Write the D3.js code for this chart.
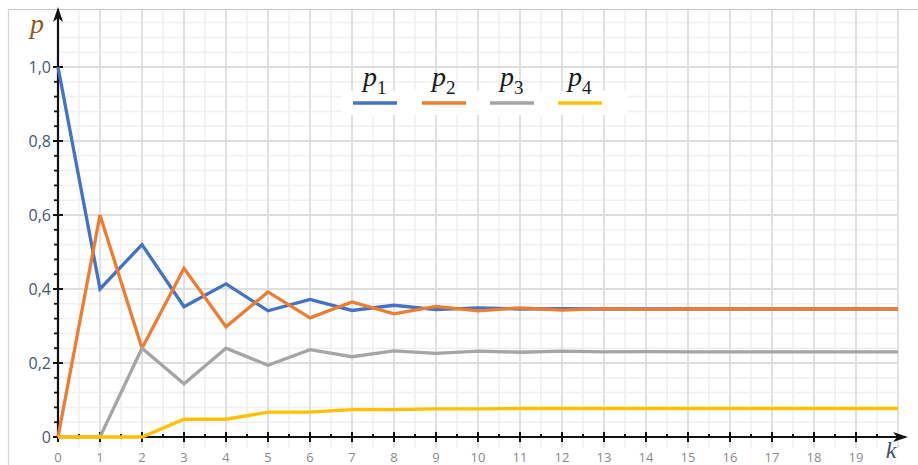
<!DOCTYPE html>
<html>
<head>
<meta charset="utf-8">
<script src="https://cdn.jsdelivr.net/npm/d3@7"></script>
<style>
  html, body { margin: 0; padding: 0; background: #fff; }
  svg { display: block; }
</style>
</head>
<body>
<svg id="chart" width="918" height="465"></svg>
<script>
// Step number k and state probabilities p1..p4
const steps = [0, 1, 2, 3, 4, 5, 6, 7, 8, 9, 10, 11, 12, 13, 14, 15, 16, 17, 18, 19, 20];
const p1 = [1.0, 0.4, 0.52, 0.352, 0.414, 0.341, 0.372, 0.342, 0.356, 0.344, 0.349, 0.346, 0.347, 0.346, 0.346, 0.346, 0.346, 0.346, 0.346, 0.346, 0.346];
const p2 = [0, 0.6, 0.24, 0.456, 0.298, 0.392, 0.322, 0.365, 0.333, 0.353, 0.341, 0.349, 0.343, 0.347, 0.345, 0.346, 0.346, 0.346, 0.346, 0.346, 0.346];
const p3 = [0, 0, 0.24, 0.144, 0.24, 0.194, 0.236, 0.217, 0.233, 0.226, 0.232, 0.229, 0.232, 0.23, 0.231, 0.23, 0.23, 0.23, 0.23, 0.23, 0.23];
const p4 = [0, 0, 0, 0.048, 0.048, 0.067, 0.067, 0.074, 0.074, 0.076, 0.076, 0.077, 0.077, 0.077, 0.077, 0.077, 0.077, 0.077, 0.077, 0.077, 0.077];
const seriesNames = ["1", "2", "3", "4"];
const seriesColors = ["#4472c4", "#ed7d31", "#a5a5a5", "#ffc000"];
const xTickValues = [0, 1, 2, 3, 4, 5, 6, 7, 8, 9, 10, 11, 12, 13, 14, 15, 16, 17, 18, 19];
const yTickValues = [0, 0.2, 0.4, 0.6, 0.8, 1.0];
const yTickLabels = ["0", "0,2", "0,4", "0,6", "0,8", "1,0"];

const svg = d3.select("#chart");
const W = 918, H = 465;

const x = d3.scaleLinear().domain([0, 20]).range([58, 898]);
const y = d3.scaleLinear().domain([0, 1]).range([437, 67]);

// frame lines of the sheet
svg.append("line").attr("x1", 8).attr("x2", W).attr("y1", 9.5).attr("y2", 9.5)
  .attr("stroke", "#c8c8c8").attr("stroke-width", 1.2);
svg.append("line").attr("x1", 8.5).attr("x2", 8.5).attr("y1", 9).attr("y2", H)
  .attr("stroke", "#d4d4d4").attr("stroke-width", 1.2);

// grid
const gridTop = 10, gridBottom = 448;
const grid = svg.append("g");
const vMinor = d3.range(0.5, 20, 1);
const vMajor = d3.range(1, 21, 1);
grid.selectAll(".vmin").data(vMinor).join("line")
  .attr("x1", d => x(d)).attr("x2", d => x(d))
  .attr("y1", gridTop).attr("y2", gridBottom)
  .attr("stroke", "#efefef").attr("stroke-width", 1.5);
const hAll = d3.range(-1, 29).map(i => i * 0.04).filter(v => y(v) > gridTop && y(v) < gridBottom);
grid.selectAll(".hmin").data(hAll.filter(v => Math.abs(v * 5 - Math.round(v * 5)) > 1e-6)).join("line")
  .attr("x1", x(0)).attr("x2", x(20))
  .attr("y1", d => y(d)).attr("y2", d => y(d))
  .attr("stroke", "#efefef").attr("stroke-width", 1.5);
grid.selectAll(".vmaj").data(vMajor).join("line")
  .attr("x1", d => x(d)).attr("x2", d => x(d))
  .attr("y1", gridTop).attr("y2", gridBottom)
  .attr("stroke", "#dedede").attr("stroke-width", 1.8);
grid.selectAll(".hmaj").data(hAll.filter(v => Math.abs(v * 5 - Math.round(v * 5)) <= 1e-6)).join("line")
  .attr("x1", x(0)).attr("x2", x(20))
  .attr("y1", d => y(d)).attr("y2", d => y(d))
  .attr("stroke", "#dedede").attr("stroke-width", 1.8);

// legend backdrop
svg.append("rect").attr("x", 342).attr("y", 91).attr("width", 286).attr("height", 24)
  .attr("fill", "#fff");

// axes
const axes = svg.append("g").attr("stroke", "#111");
axes.append("line").attr("x1", x(0)).attr("x2", 900).attr("y1", y(0)).attr("y2", y(0))
  .attr("stroke-width", 2.2);
axes.append("line").attr("x1", x(0)).attr("x2", x(0)).attr("y1", y(0)).attr("y2", 16)
  .attr("stroke-width", 2.2);
// arrow heads
svg.append("path")
  .attr("d", `M${x(0)},7 L${x(0) + 5},22 L${x(0)},18 L${x(0) - 5},22 Z`)
  .attr("fill", "#111");
svg.append("path")
  .attr("d", `M908,${y(0)} L893,${y(0) - 5} L897,${y(0)} L893,${y(0) + 5} Z`)
  .attr("fill", "#111");

// x ticks
axes.selectAll(".xt").data(xTickValues).join("line")
  .attr("x1", d => x(d)).attr("x2", d => x(d))
  .attr("y1", y(0) - 5).attr("y2", y(0) + 5).attr("stroke-width", 2);
axes.selectAll(".xm").data(d3.range(0.5, 20, 1)).join("line")
  .attr("x1", d => x(d)).attr("x2", d => x(d))
  .attr("y1", y(0) - 3).attr("y2", y(0)).attr("stroke-width", 2);
// y ticks
axes.selectAll(".yt").data(yTickValues).join("line")
  .attr("x1", x(0) - 5).attr("x2", x(0) + 5)
  .attr("y1", d => y(d)).attr("y2", d => y(d)).attr("stroke-width", 2);
axes.selectAll(".ym").data(d3.range(1, 25).map(i => i * 0.04).filter(v => Math.abs(v * 5 - Math.round(v * 5)) > 1e-6)).join("line")
  .attr("x1", x(0) - 4).attr("x2", x(0))
  .attr("y1", d => y(d)).attr("y2", d => y(d)).attr("stroke-width", 1.8);

// tick labels
svg.append("g").selectAll("text").data(xTickValues).join("text")
  .attr("x", d => x(d)).attr("y", 462)
  .attr("text-anchor", "middle")
  .attr("font-family", "'Open Sans', sans-serif").attr("font-size", 13)
  .attr("fill", "#8a8a8a")
  .text(d => d);
svg.append("g").selectAll("text").data(yTickValues).join("text")
  .attr("x", 51).attr("y", d => y(d) + 5.5)
  .attr("text-anchor", "end")
  .attr("font-family", "'Open Sans', sans-serif").attr("font-size", 16)
  .attr("fill", "#465670")
  .text((d, i) => yTickLabels[i]);

// axis titles
svg.append("text").attr("x", 37).attr("y", 33).attr("text-anchor", "middle")
  .attr("font-family", "'Liberation Serif', 'DejaVu Serif', serif").attr("font-style", "italic")
  .attr("font-size", 28).attr("fill", "#8c5a1c").text("p");
svg.append("text").attr("x", 891).attr("y", 458).attr("text-anchor", "middle")
  .attr("font-family", "'Liberation Serif', 'DejaVu Serif', serif").attr("font-style", "italic")
  .attr("font-size", 24).attr("fill", "#3d4f72").text("k");

// series lines
const allSeries = [p1, p2, p3, p4];
const line = d3.line().x((d, i) => x(steps[i])).y(d => y(d));
svg.append("g").selectAll("path").data(allSeries).join("path")
  .attr("d", d => line(d))
  .attr("fill", "none")
  .attr("stroke", (d, i) => seriesColors[i])
  .attr("stroke-width", 3.3)
  .attr("stroke-linejoin", "miter");

// legend
const legendX = [353, 422, 490, 558];
const lg = svg.append("g").selectAll("g").data(seriesNames).join("g")
  .attr("transform", (d, i) => `translate(${legendX[i]},0)`);
lg.append("line").attr("x1", 0).attr("x2", 44).attr("y1", 103).attr("y2", 103)
  .attr("stroke", (d, i) => seriesColors[i]).attr("stroke-width", 3.3);
const lt = lg.append("text").attr("x", 10).attr("y", 86)
  .attr("font-family", "'Liberation Serif', 'DejaVu Serif', serif")
  .attr("fill", "#1a1a1a");
lt.append("tspan").attr("font-style", "italic").attr("font-size", 28).text("p");
lt.append("tspan").attr("font-size", 19).attr("dy", 8).text(d => d);
</script>
</body>
</html>
